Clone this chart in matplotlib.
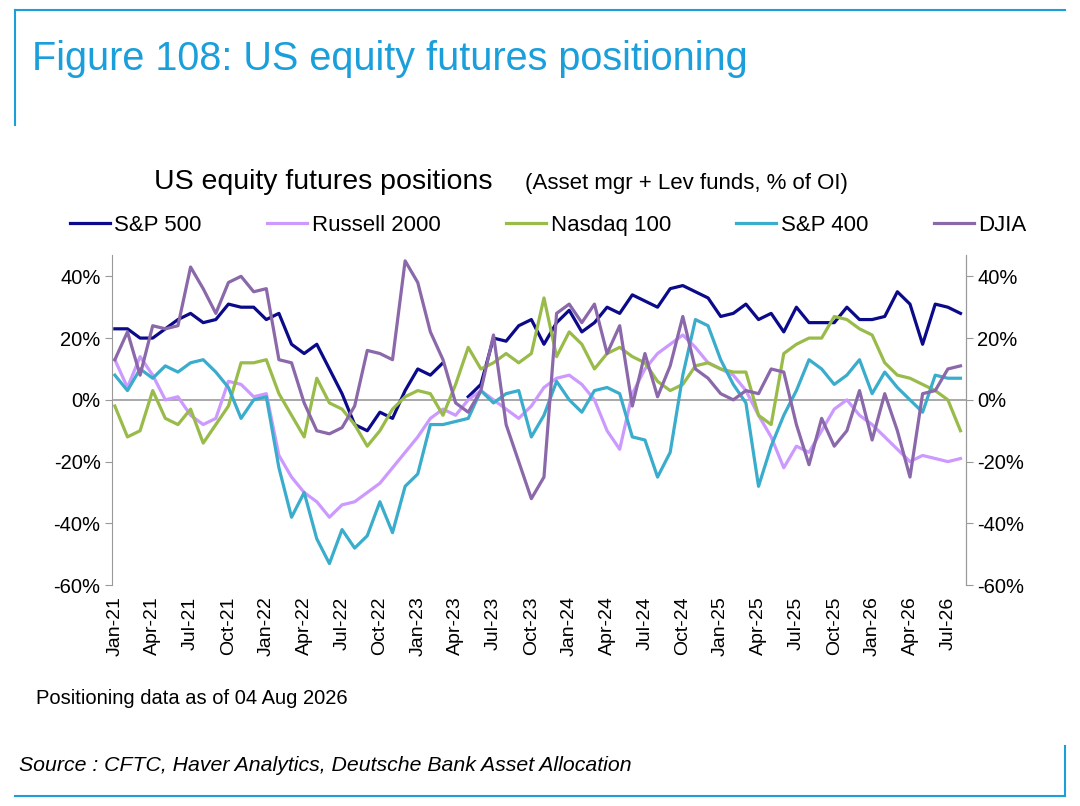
import numpy as np
import matplotlib.pyplot as plt

plt.rcParams['font.family'] = ['Liberation Sans', 'DejaVu Sans']

nan = np.nan
months = [f"{m}-{y}" for y in range(21, 27) for m in
          ["Jan", "Feb", "Mar", "Apr", "May", "Jun", "Jul", "Aug", "Sep", "Oct", "Nov", "Dec"]][:68]

sp500 = [23, 23, 20, 20, 23, 26, 28, 25, 26, 31, 30, 30,
         26, 28, 18, 15, 18, 10, 2, -8, -10, -4, -6, 3,
         10, 8, 12, nan, 1, 5, 20, 19, 24, 26, 18, 25,
         29, 22, 25, 30, 28, 34, 32, 30, 36, 37, 35, 33,
         27, 28, 31, 26, 28, 22, 30, 25, 25, 25, 30, 26,
         26, 27, 35, 31, 18, 31, 30, 28]
russell = [13, 4, 14, 8, 0, 1, -5, -8, -6, 6, 5, 1,
           2, -18, -25, -30, -33, -38, -34, -33, -30, -27, -22, -17,
           -12, -6, -3, -5, 0, 3, 0, -3, -6, -2, 4, 7,
           8, 5, 0, -10, -16, 2, 10, 15, 18, 21, 17, 12,
           10, 8, 3, -5, -12, -22, -15, -17, -10, -3, 0, -5,
           -8, -12, -16, -20, -18, -19, -20, -19]
nasdaq = [-2, -12, -10, 3, -6, -8, -3, -14, -8, -2, 12, 12,
          13, 2, -5, -12, 7, -1, -3, -8, -15, -10, -3, 1,
          3, 2, -5, 5, 17, 10, 12, 15, 12, 15, 33, 14,
          22, 18, 10, 15, 17, 14, 12, 6, 3, 5, 11, 12,
          10, 9, 9, -5, -8, 15, 18, 20, 20, 27, 26, 23,
          21, 12, 8, 7, 5, 3, 0, -10]
sp400 = [8, 3, 10, 7, 11, 9, 12, 13, 9, 4, -6, 0,
         1, -22, -38, -30, -45, -53, -42, -48, -44, -33, -43, -28,
         -24, -8, -8, -7, -6, 3, -1, 2, 3, -12, -5, 6,
         0, -4, 3, 4, 2, -12, -13, -25, -17, 8, 26, 24,
         13, 5, -1, -28, -15, -5, 3, 13, 10, 5, 8, 13,
         2, 9, 4, 0, -4, 8, 7, 7]
djia = [13, 22, 8, 24, 23, 24, 43, 36, 28, 38, 40, 35,
        36, 13, 12, -1, -10, -11, -9, -2, 16, 15, 13, 45,
        38, 22, 13, -1, -4, 3, 21, -8, -20, -32, -25, 28,
        31, 25, 31, 15, 24, -2, 15, 1, 11, 27, 10, 7,
        2, 0, 3, 2, 10, 9, -8, -21, -6, -15, -10, 3,
        -13, 2, -10, -25, 2, 3, 10, 11]

series = [("S&P 500", sp500, "#0a0a8a"), ("Russell 2000", russell, "#cc99ff"),
          ("Nasdaq 100", nasdaq, "#99bb4a"), ("S&P 400", sp400, "#3aaccc"),
          ("DJIA", djia, "#8a68aa")]

fig = plt.figure(figsize=(10.8, 8.06), dpi=100)
blue = "#1a9fdb"
fig.text(0.03, 0.913, "Figure 108: US equity futures positioning", color=blue, fontsize=28.5)
fig.add_artist(plt.Line2D([0.014, 0.986], [0.987, 0.987], color=blue, lw=1.5))
fig.add_artist(plt.Line2D([0.014, 0.014], [0.845, 0.987], color=blue, lw=1.5))
fig.add_artist(plt.Line2D([0.014, 0.986], [0.013, 0.013], color=blue, lw=1.5))
fig.add_artist(plt.Line2D([0.986, 0.986], [0.013, 0.075], color=blue, lw=1.5))

fig.text(0.143, 0.766, "US equity futures positions", fontsize=20.5)
fig.text(0.486, 0.766, "(Asset mgr + Lev funds, % of OI)", fontsize=16)

ax = fig.add_axes([0.104, 0.274, 0.79, 0.41])
x = np.arange(len(months))
for name, vals, c in series:
    ax.plot(x, vals, color=c, lw=2.3, label=name)
ax.axhline(0, color="#999999", lw=1.2, zorder=0)
ax.set_ylim(-60, 47)
ax.set_xlim(-0.2, 67.4)
ax.set_yticks(range(-60, 41, 20))
ax.set_yticklabels([f"{v}%" for v in range(-60, 41, 20)], fontsize=14.5)
ax.set_xticks(x[::3])
ax.set_xticklabels(months[::3], rotation=90, fontsize=14)
ax.tick_params(axis="x", length=0, pad=8)
ax.tick_params(axis="y", color="#999999", length=5)
for s in ["top", "bottom"]:
    ax.spines[s].set_visible(False)
for s in ["left", "right"]:
    ax.spines[s].set_color("#999999")
ax2 = ax.twinx()
ax2.set_ylim(ax.get_ylim())
ax2.set_yticks(range(-60, 41, 20))
ax2.set_yticklabels([f"{v}%" for v in range(-60, 41, 20)], fontsize=14.5)
ax2.tick_params(axis="y", color="#999999", length=5)
for s in ["top", "bottom", "left"]:
    ax2.spines[s].set_visible(False)
ax2.spines["right"].set_color("#999999")

ax.legend(loc="lower left", bbox_to_anchor=(-0.06, 1.03), ncol=5, frameon=False,
          fontsize=16, handlelength=1.8, columnspacing=2.95, handletextpad=0.2,
          borderaxespad=0)

fig.text(0.033, 0.127, "Positioning data as of 04 Aug 2026", fontsize=14.5)
fig.text(0.018, 0.044, "Source : CFTC, Haver Analytics, Deutsche Bank Asset Allocation",
         fontsize=15.3, style="italic")
fig.savefig("out.png", dpi=100)
